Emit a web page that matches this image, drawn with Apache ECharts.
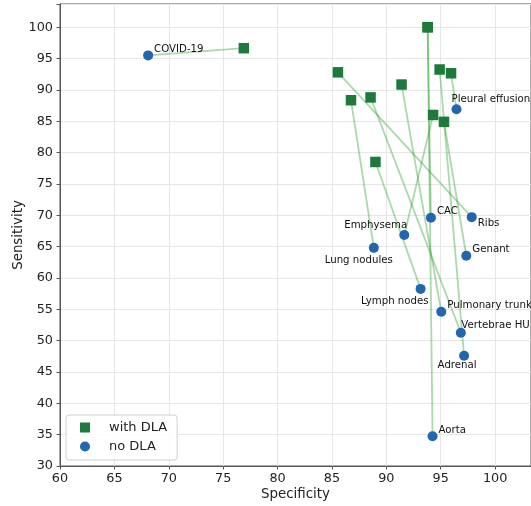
<!DOCTYPE html>
<html>
<head>
<meta charset="utf-8">
<script src="https://cdn.jsdelivr.net/npm/echarts@6/dist/echarts.min.js"></script>
<style>
html,body{margin:0;padding:0;background:#fff;}
#chart{width:531px;height:506px;}
</style>
</head>
<body>
<div id="chart"></div>
<script>
const categories = ['COVID-19','Pleural effusion','CAC','Ribs','Emphysema','Lung nodules','Genant','Lymph nodes','Pulmonary trunk','Vertebrae HU','Adrenal','Aorta'];
const specNoDLA   = [68.1, 96.45, 94.1, 97.85, 91.65, 88.85, 97.35, 93.15, 95.05, 96.85, 97.15, 94.25];
const sensNoDLA   = [95.5, 86.9, 69.6, 69.7, 66.85, 64.8, 63.55, 58.25, 54.6, 51.25, 47.6, 34.75];
const specWithDLA = [76.9, 95.95, 93.8, 85.55, 94.3, 86.75, 95.3, 89.0, 91.4, 88.55, 94.9, 93.8];
const sensWithDLA = [96.65, 92.65, 100.0, 92.8, 86.0, 88.35, 84.9, 78.5, 90.85, 88.8, 93.25, 100.0];
const xTicks = [60, 65, 70, 75, 80, 85, 90, 95, 100];
const yTicks = [30, 35, 40, 45, 50, 55, 60, 65, 70, 75, 80, 85, 90, 95, 100];

// label placement (style only): [dx, dy, align]
const labelPlacement = [
  [6, -6, 'left'], [-5, -10, 'left'], [6, -6.5, 'left'], [6, 6, 'left'],
  [3, -9.5, 'right'], [19, 12.5, 'right'], [6, -6.5, 'left'], [8, 12, 'right'],
  [6, -6.5, 'left'], [0.5, -7.3, 'left'], [-7, 10, 'center'], [6, -6.3, 'left']
];

const FONT = 'DejaVu Sans';
const chart = echarts.init(document.getElementById('chart'), null, {renderer: 'canvas'});

const noData = categories.map((c, i) => ({
  name: c,
  value: [specNoDLA[i], sensNoDLA[i]],
  label: {
    show: true, position: 'inside',
    offset: [labelPlacement[i][0], labelPlacement[i][1]],
    align: labelPlacement[i][2], verticalAlign: 'middle',
    formatter: c, color: '#111', fontSize: 10.2, fontFamily: FONT
  }
}));
const withData = categories.map((c, i) => ({ name: c, value: [specWithDLA[i], sensWithDLA[i]] }));
const linkData = categories.map((c, i) => ({
  coords: [[specNoDLA[i], sensNoDLA[i]], [specWithDLA[i], sensWithDLA[i]]]
}));

const option = {
  animation: false,
  backgroundColor: '#fff',
  grid: { left: 60, right: 0, top: 4, bottom: 40, show: true, borderColor: '#555', borderWidth: 1,
    backgroundColor: 'transparent', containLabel: false, outerBoundsMode: 'none' },
  xAxis: {
    type: 'value', min: 60, max: 103.3, interval: 5,
    name: 'Specificity', nameLocation: 'middle', nameGap: 22, nameMoveOverlap: false,
    nameTextStyle: { fontSize: 13.4, fontFamily: FONT, color: '#222' },
    axisLine: { show: true, lineStyle: { color: '#555' } },
    axisTick: { show: true, length: 3.5, lineStyle: { color: '#555' } },
    axisLabel: { fontSize: 12.8, fontFamily: FONT, color: '#222', margin: 6,
      formatter: v => xTicks.includes(v) ? String(v) : '' },
    splitLine: { show: true, lineStyle: { color: '#e6e6e6', width: 1 } }
  },
  yAxis: {
    type: 'value', min: 30, max: 103.7, interval: 5,
    name: 'Sensitivity', nameLocation: 'middle', nameGap: 34.5, nameMoveOverlap: false,
    nameTextStyle: { fontSize: 13.4, fontFamily: FONT, color: '#222' },
    axisLine: { show: true, lineStyle: { color: '#555' } },
    axisTick: { show: true, length: 3.5, lineStyle: { color: '#555' } },
    axisLabel: { fontSize: 12.8, fontFamily: FONT, color: '#222', margin: 7,
      formatter: v => yTicks.includes(v) ? String(v) : '' },
    splitLine: { show: true, lineStyle: { color: '#e6e6e6', width: 1 } }
  },
  legend: {
    orient: 'vertical', left: 66, top: 415,
    data: [{ name: 'with DLA', icon: 'rect' }, { name: 'no DLA', icon: 'circle' }],
    itemWidth: 10, itemHeight: 10, itemGap: 6,
    padding: [6, 10, 7, 14],
    backgroundColor: 'rgba(255,255,255,0.85)', borderColor: '#d0d0d0', borderWidth: 1, borderRadius: 3,
    itemStyle: { opacity: 1 },
    textStyle: { fontSize: 13, fontFamily: FONT, color: '#222', padding: [0, 0, 0, 14] }
  },
  series: [
    {
      type: 'lines', coordinateSystem: 'cartesian2d', z: 1,
      lineStyle: { color: 'rgba(44,160,44,0.4)', width: 1.8, opacity: 1 },
      data: linkData, silent: true
    },
    {
      name: 'with DLA', type: 'scatter', symbol: 'rect', symbolSize: 10.5, z: 2,
      itemStyle: { color: '#1e7a3a', opacity: 1 },
      data: withData
    },
    {
      name: 'no DLA', type: 'scatter', symbol: 'circle', symbolSize: 10, z: 3,
      itemStyle: { color: '#2166ae', opacity: 1 },
      data: noData
    }
  ]
};
chart.setOption(option);
</script>
</body>
</html>
